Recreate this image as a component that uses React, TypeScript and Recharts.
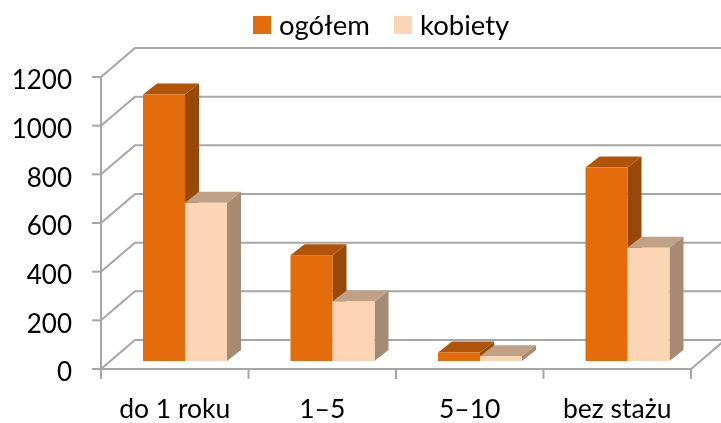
import { Bar, BarChart, CartesianGrid, Legend, XAxis, YAxis } from "recharts";

const categories = ["do 1 roku", "1–5", "5–10", "bez stażu"];
const ogolem = [1095, 435, 35, 795];
const kobiety = [650, 245, 20, 465];
const yTicks = [0, 200, 400, 600, 800, 1000, 1200];

const data = categories.map((name, i) => ({ name, ogolem: ogolem[i], kobiety: kobiety[i] }));

const FONT = "Lato, sans-serif";
const GRAY = "#a6a6a6";
const BAND = 147.5;
// 3d look: wall sits behind the front axes, bars stand partway in
const WALL_DX = 34;
const WALL_DY = -29;
const BAR_DX = 10;
const BAR_DY = -8;
const DEPTH_X = 14;
const DEPTH_Y = -11;

function Bar3D(props: any) {
  const { x, y, width, height, fill, side, top } = props;
  const l = x + BAR_DX;
  const r = l + width;
  const t = y + BAR_DY;
  const b = t + height;
  return (
    <g>
      <polygon points={`${r},${t} ${r + DEPTH_X},${t + DEPTH_Y} ${r + DEPTH_X},${b + DEPTH_Y} ${r},${b}`} fill={side} />
      <polygon points={`${l},${t} ${l + DEPTH_X},${t + DEPTH_Y} ${r + DEPTH_X},${t + DEPTH_Y} ${r},${t}`} fill={top} />
      <rect x={l} y={t} width={width} height={height} fill={fill} />
    </g>
  );
}

function GridLine(props: any) {
  const { x1, x2, y1 } = props;
  // the zero line also gets the right floor edge
  const isFloor = y1 > 360;
  return (
    <g>
      <polyline
        points={`${x1},${y1} ${x1 + WALL_DX},${y1 + WALL_DY} ${x2 + WALL_DX},${y1 + WALL_DY}`}
        fill="none"
        stroke={GRAY}
        strokeWidth={2}
      />
      {isFloor ? <line x1={x2} y1={y1} x2={x2 + WALL_DX} y2={y1 + WALL_DY} stroke={GRAY} strokeWidth={2} /> : null}
    </g>
  );
}

function CategoryTick(props: any) {
  const { x, y, payload, index } = props;
  const left = x - BAND / 2;
  return (
    <g>
      <line x1={left} y1={y} x2={left} y2={y + 10} stroke={GRAY} strokeWidth={2} />
      {index === categories.length - 1 ? (
        <line x1={left + BAND} y1={y} x2={left + BAND} y2={y + 10} stroke={GRAY} strokeWidth={2} />
      ) : null}
      <text x={x} y={y + 48.5} textAnchor="middle" fontSize={26.5} fontFamily={FONT} fill="#000">
        {payload.value}
      </text>
    </g>
  );
}

function LegendRow() {
  const item = (color: string, label: string, left: number) => (
    <div style={{ position: "absolute", left, top: 0, display: "flex", alignItems: "center", height: 50 }}>
      <span style={{ width: 18, height: 18, background: color, marginRight: 8, display: "inline-block" }} />
      <span style={{ fontSize: 27.5, fontFamily: FONT, color: "#000", lineHeight: "50px" }}>{label}</span>
    </div>
  );
  return (
    <div style={{ position: "relative", width: 721, height: 50 }}>
      {item("#e46c0a", "ogółem", 253)}
      {item("#fcd5b5", "kobiety", 394)}
    </div>
  );
}

export default function App() {
  return (
    <div style={{ position: "absolute", left: 0, top: 0, width: 721, height: 423, filter: "blur(0.4px)" }}>
      <BarChart
        width={721}
        height={423}
        data={data}
        barSize={42}
        barGap={0}
        margin={{ top: 0, right: 30, bottom: 0, left: 0 }}
      >
        <Legend verticalAlign="top" height={77} content={<LegendRow />} wrapperStyle={{ left: 0, top: 0 }} />
        <CartesianGrid vertical={false} horizontal={<GridLine />} />
        <XAxis
          dataKey="name"
          height={54}
          interval={0}
          axisLine={{ stroke: GRAY, strokeWidth: 2 }}
          tickLine={false}
          tickSize={0}
          tickMargin={0}
          tick={<CategoryTick />}
        />
        <YAxis
          width={101}
          domain={[0, 1200]}
          ticks={yTicks}
          interval={0}
          axisLine={{ stroke: GRAY, strokeWidth: 2 }}
          tickLine={{ stroke: GRAY, strokeWidth: 2 }}
          tickSize={9}
          tickMargin={20}
          tick={{ fontSize: 26, fontFamily: FONT, fill: "#000", dy: 3 }}
        />
        <Bar
          dataKey="ogolem"
          isAnimationActive={false}
          fill="#e46c0a"
          shape={<Bar3D side="#984807" top="#b05409" />}
        />
        <Bar
          dataKey="kobiety"
          isAnimationActive={false}
          fill="#fcd5b5"
          shape={<Bar3D side="#a68b72" top="#c0a186" />}
        />
      </BarChart>
    </div>
  );
}
